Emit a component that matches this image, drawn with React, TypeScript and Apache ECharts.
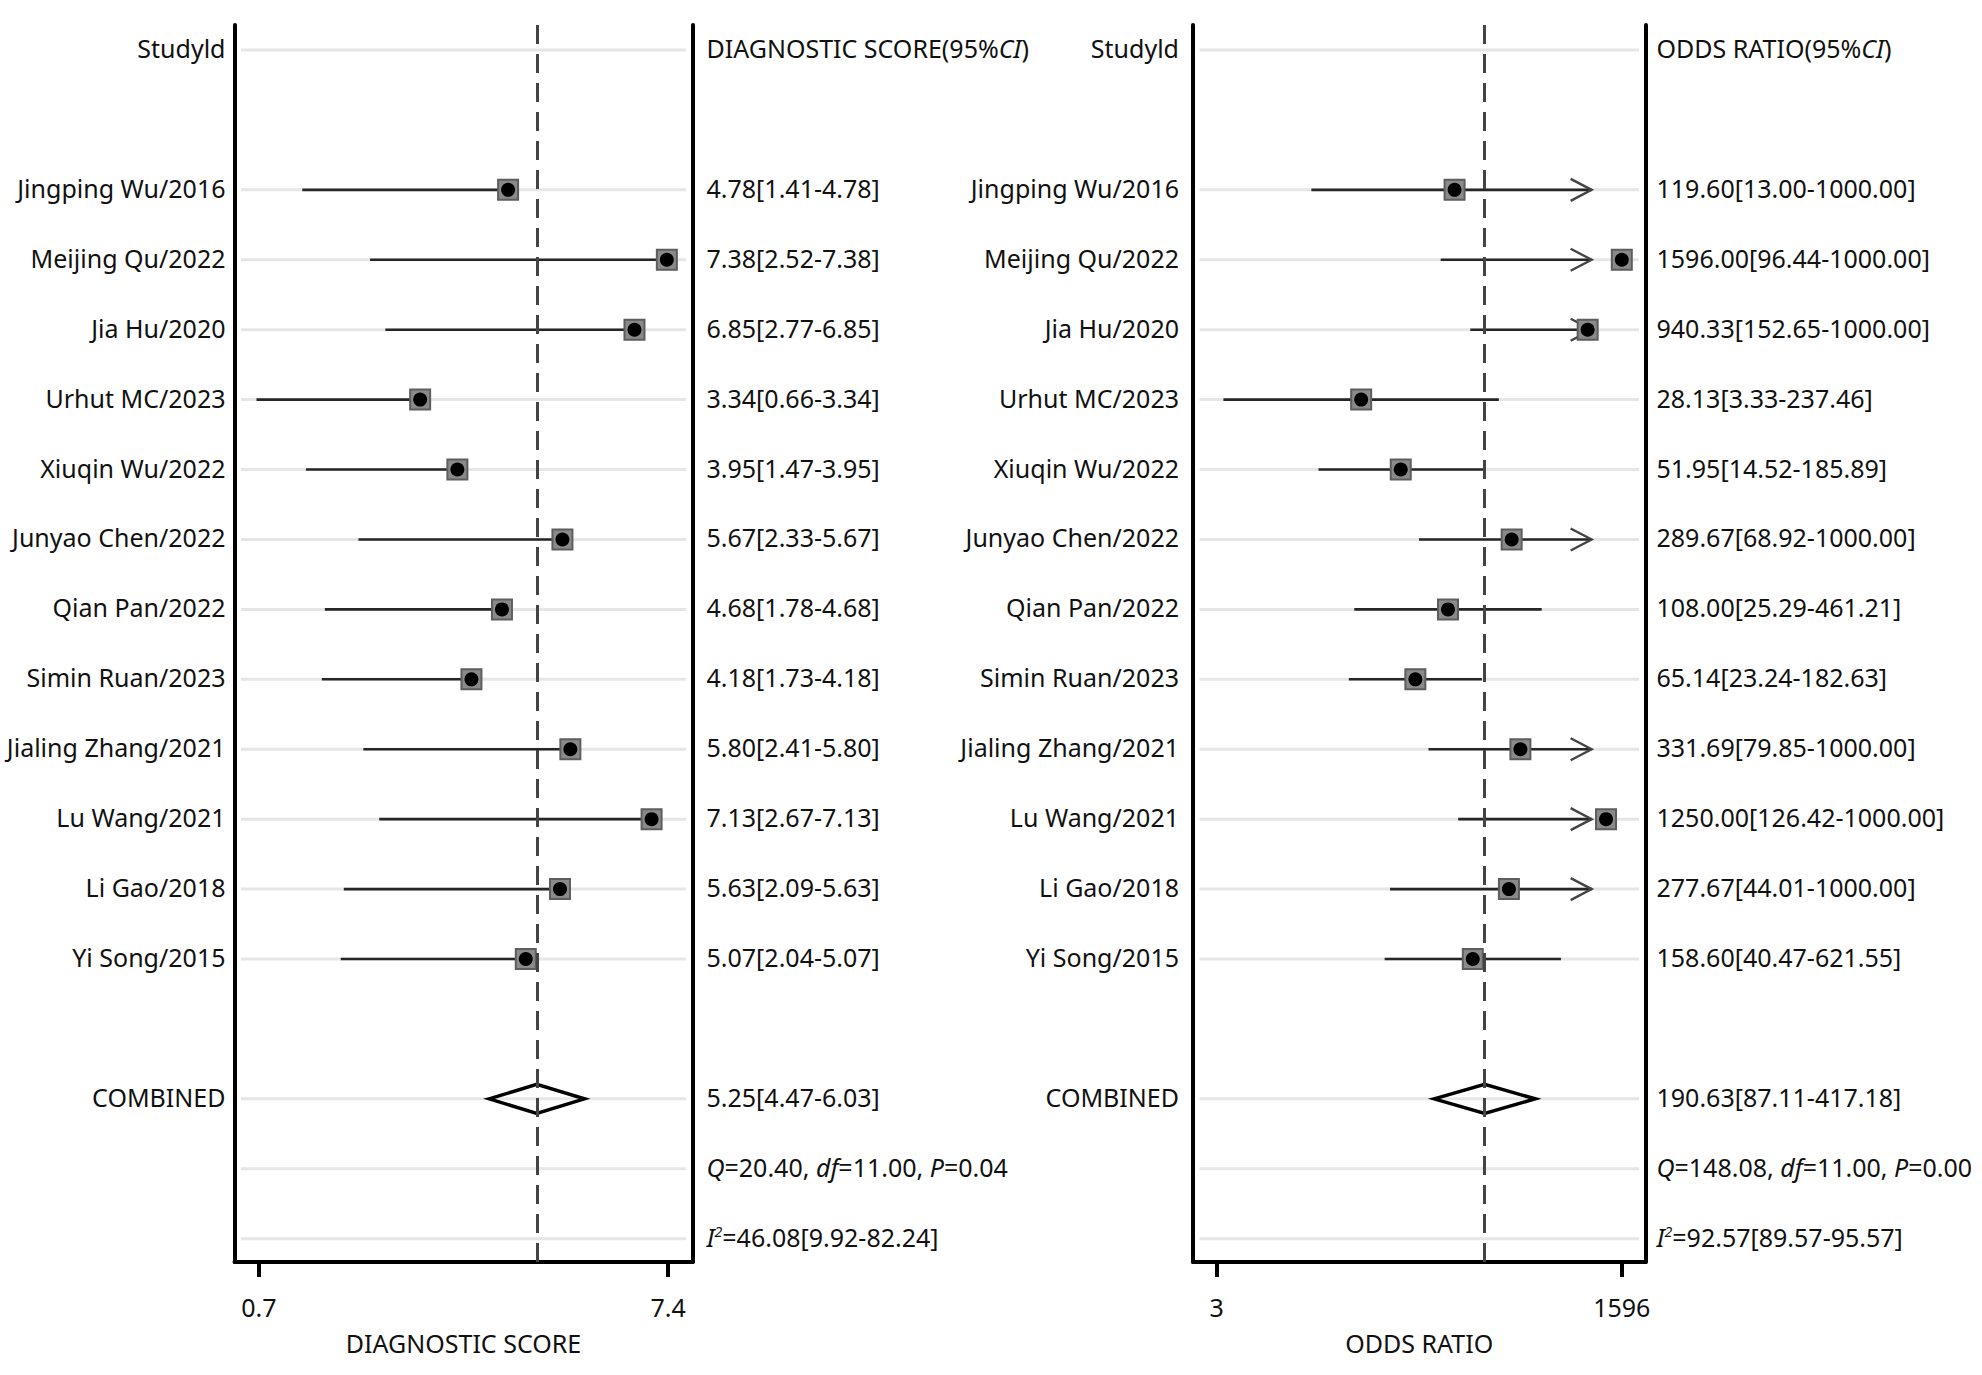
import React, { useEffect, useRef } from "react";
import * as echarts from "echarts";

// ---------- data ----------
const studies = [
  "Jingping Wu/2016",
  "Meijing Qu/2022",
  "Jia Hu/2020",
  "Urhut MC/2023",
  "Xiuqin Wu/2022",
  "Junyao Chen/2022",
  "Qian Pan/2022",
  "Simin Ruan/2023",
  "Jialing Zhang/2021",
  "Lu Wang/2021",
  "Li Gao/2018",
  "Yi Song/2015",
];
const dsEst = [4.78, 7.38, 6.85, 3.34, 3.95, 5.67, 4.68, 4.18, 5.8, 7.13, 5.63, 5.07];
const dsLow = [1.41, 2.52, 2.77, 0.66, 1.47, 2.33, 1.78, 1.73, 2.41, 2.67, 2.09, 2.04];
const dsHigh = [4.78, 7.38, 6.85, 3.34, 3.95, 5.67, 4.68, 4.18, 5.8, 7.13, 5.63, 5.07];

const orEst = [119.6, 1596.0, 940.33, 28.13, 51.95, 289.67, 108.0, 65.14, 331.69, 1250.0, 277.67, 158.6];
const orLow = [13.0, 96.44, 152.65, 3.33, 14.52, 68.92, 25.29, 23.24, 79.85, 126.42, 44.01, 40.47];
const orHigh = [1000, 1000, 1000, 237.46, 185.89, 1000, 461.21, 182.63, 1000, 1000, 1000, 621.55];
const orTruncate = 1000;

const dsPooled = [5.25, 4.47, 6.03];
const orPooled = [190.63, 87.11, 417.18];

const dsHet = { Q: "20.40", df: "11.00", P: "0.04", I2: "46.08[9.92-82.24]" };
const orHet = { Q: "148.08", df: "11.00", P: "0.00", I2: "92.57[89.57-95.57]" };

const dsTicks = [0.7, 7.4];
const orTicks = [3, 1596];

const dsAxisMin = 0.3;
const dsAxisMax = 7.8;
const orAxisMinLog = 0.3176;
const orAxisMaxLog = 3.3625;

const headerLabel = "Studyld";
const pooledLabel = "COMBINED";
const dsHeader = "DIAGNOSTIC SCORE(95%{i|CI})";
const orHeader = "ODDS RATIO(95%{i|CI})";
const dsAxisName = "DIAGNOSTIC SCORE";
const orAxisName = "ODDS RATIO";

// ---------- layout rows ----------
const headerRow = 0;
const studyRows = studies.map((_, i) => i + 2);
const pooledRow = 15;
const qRow = 16;
const i2Row = 17;
const gridRows = [headerRow, ...studyRows, pooledRow, qRow, i2Row];

const FONT = "'Noto Sans', 'Open Sans', sans-serif";
const FS = 25;
const TXT = "#111";

const fmt = (v: number) => v.toFixed(2);

function leftLabels(): Record<number, string> {
  const m: Record<number, string> = { [headerRow]: headerLabel, [pooledRow]: pooledLabel };
  studies.forEach((s, i) => (m[studyRows[i]] = s));
  return m;
}

function rightLabels(est: number[], lo: number[], hi: number[], pooled: number[], het: any, header: string) {
  const m: Record<number, string> = { [headerRow]: header };
  studies.forEach((_, i) => (m[studyRows[i]] = `${fmt(est[i])}[${fmt(lo[i])}-${fmt(hi[i])}]`));
  m[pooledRow] = `${fmt(pooled[0])}[${fmt(pooled[1])}-${fmt(pooled[2])}]`;
  m[qRow] = `{i|Q}=${het.Q}, {i|df}=${het.df}, {i|P}=${het.P}`;
  m[i2Row] = `{i|I}{s|2}=${het.I2}`;
  return m;
}

const richStyles = {
  n: { fontFamily: FONT, fontSize: FS, color: TXT },
  i: { fontStyle: "italic", fontFamily: FONT, fontSize: FS, color: TXT },
  s: { fontStyle: "italic", fontFamily: FONT, fontSize: 14, color: TXT, verticalAlign: "top", padding: [0, 0, 10, 0] },
};

function ciRenderer(params: any, api: any) {
  const est = api.value(0);
  const row = api.value(1);
  const lo = api.value(2);
  const hi = api.value(3);
  const trunc = api.value(4);
  const pE = api.coord([est, row]);
  const pL = api.coord([lo, row]);
  const pH = api.coord([hi, row]);
  const children: any[] = [
    {
      type: "line",
      shape: { x1: pL[0], y1: pL[1], x2: pH[0], y2: pH[1] },
      style: { stroke: "#262626", lineWidth: 2.6 },
    },
  ];
  if (trunc) {
    children.push({
      type: "polyline",
      shape: { points: [[pH[0] - 21, pH[1] - 11], [pH[0], pH[1]], [pH[0] - 21, pH[1] + 11]] },
      style: { stroke: "#444", lineWidth: 2.4, fill: "none" },
    });
  }
  children.push({
    type: "rect",
    shape: { x: pE[0] - 10, y: pE[1] - 10, width: 20, height: 20 },
    style: { fill: "#8a8a8a", stroke: "#5e5e5e", lineWidth: 2 },
  });
  children.push({
    type: "circle",
    shape: { cx: pE[0], cy: pE[1], r: 7 },
    style: { fill: "#000" },
  });
  return { type: "group", children };
}

function diamondRenderer(params: any, api: any) {
  const est = api.value(0);
  const row = api.value(1);
  const lo = api.value(2);
  const hi = api.value(3);
  const pE = api.coord([est, row]);
  const pL = api.coord([lo, row]);
  const pH = api.coord([hi, row]);
  return {
    type: "polygon",
    shape: {
      points: [
        [pL[0], pL[1]],
        [pE[0], pE[1] - 14.5],
        [pH[0], pH[1]],
        [pE[0], pE[1] + 14.5],
      ],
    },
    style: { fill: "none", stroke: "#000", lineWidth: 3.5, lineJoin: "miter" },
  };
}

function gridLineRenderer(params: any, api: any) {
  const y = api.coord([api.value(0), api.value(1)])[1];
  const cs = params.coordSys;
  return {
    type: "line",
    shape: { x1: cs.x + 6.5, y1: y, x2: cs.x + cs.width - 6.5, y2: y },
    style: { stroke: "#e6e6e6", lineWidth: 3 },
  };
}

const yMin = -0.3575;
const yMax = 17.333;

function yAxes(gridIndex: number, leftMap: Record<number, string>, rightMap: Record<number, string>, lm: number, rm: number) {
  const base = {
    type: "value",
    gridIndex,
    min: yMin,
    max: yMax,
    inverse: true,
    splitLine: { show: false },
    axisTick: { show: false },
    axisLine: { show: true, onZero: false, lineStyle: { color: "#000", width: 4 } },
  };
  return [
    {
      ...base,
      position: "left",
      axisLabel: {
        customValues: [headerRow, ...studyRows, pooledRow],
        formatter: (v: number) => {
          const s = leftMap[Math.round(v)];
          return s ? `{n|${s}}` : "";
        },
        fontFamily: FONT,
        fontSize: FS,
        color: TXT,
        margin: lm,
        padding: [0, 0, 4, 0],
        rich: richStyles,
      },
    },
    {
      ...base,
      position: "right",
      axisLabel: {
        customValues: gridRows,
        formatter: (v: number) => rightMap[Math.round(v)] ?? "",
        fontFamily: FONT,
        fontSize: FS,
        color: TXT,
        margin: rm,
        align: "left",
        padding: [0, 0, 4, 0],
        rich: richStyles,
      },
    },
  ];
}

function xAxisBase(gridIndex: number, min: number, max: number, ticks: number[], name: string, fmtFn: (v: number) => string) {
  return {
    type: "value",
    gridIndex,
    min,
    max,
    position: "bottom",
    splitLine: { show: false },
    axisLine: { show: true, onZero: false, lineStyle: { color: "#000", width: 4 } },
    axisTick: { show: true, customValues: ticks, length: 15, lineStyle: { color: "#000", width: 4 } },
    axisLabel: { customValues: ticks, formatter: fmtFn, fontFamily: FONT, fontSize: FS, color: TXT, margin: 32 },
    name,
    nameLocation: "middle",
    nameGap: 68,
    nameTextStyle: { fontFamily: FONT, fontSize: FS, color: TXT },
  };
}

export default function App() {
  const ref = useRef<HTMLDivElement>(null);
  useEffect(() => {
    if (!ref.current) return;
    const chart = echarts.init(ref.current, null, { renderer: "svg" });

    const lg = Math.log10;
    const dsData = studies.map((_, i) => [dsEst[i], studyRows[i], dsLow[i], dsHigh[i], 0]);
    const orData = studies.map((_, i) => [
      lg(orEst[i]),
      studyRows[i],
      lg(orLow[i]),
      lg(orHigh[i]),
      orHigh[i] >= orTruncate ? 1 : 0,
    ]);

    const dashed = {
      silent: true,
      symbol: "none",
      label: { show: false },
      lineStyle: { type: [19, 10], color: "#444", width: 3 },
    };

    const option: any = {
      animation: false,
      backgroundColor: "#fff",
      textStyle: { fontFamily: FONT },
      grid: [
        { left: 234.5, top: 25, width: 458, height: 1237, outerBoundsMode: "none", containLabel: false },
        { left: 1193, top: 25, width: 452.5, height: 1237, outerBoundsMode: "none", containLabel: false },
      ],
      xAxis: [
        xAxisBase(0, dsAxisMin, dsAxisMax, dsTicks, dsAxisName, (v: number) => String(v)),
        xAxisBase(1, orAxisMinLog, orAxisMaxLog, orTicks.map((t) => lg(t)), orAxisName, (v: number) =>
          String(Math.round(Math.pow(10, v)))
        ),
      ],
      yAxis: [
        ...yAxes(0, leftLabels(), rightLabels(dsEst, dsLow, dsHigh, dsPooled, dsHet, dsHeader), 9, 14),
        ...yAxes(1, leftLabels(), rightLabels(orEst, orLow, orHigh, orPooled, orHet, orHeader), 14, 11),
      ],
      series: [
        {
          type: "custom",
          xAxisIndex: 0,
          yAxisIndex: 0,
          z: 1,
          silent: true,
          renderItem: gridLineRenderer,
          encode: { x: 0, y: 1 },
          data: gridRows.map((r) => [dsAxisMin, r]),
        },
        {
          type: "custom",
          xAxisIndex: 1,
          yAxisIndex: 2,
          z: 1,
          silent: true,
          renderItem: gridLineRenderer,
          encode: { x: 0, y: 1 },
          data: gridRows.map((r) => [orAxisMinLog, r]),
        },
        {
          type: "custom",
          xAxisIndex: 0,
          yAxisIndex: 0,
          z: 3,
          silent: true,
          renderItem: diamondRenderer,
          encode: { x: 0, y: 1 },
          data: [[dsPooled[0], pooledRow, dsPooled[1], dsPooled[2]]],
          markLine: { ...dashed, data: [{ xAxis: dsPooled[0] }] },
        },
        {
          type: "custom",
          xAxisIndex: 1,
          yAxisIndex: 2,
          z: 3,
          silent: true,
          renderItem: diamondRenderer,
          encode: { x: 0, y: 1 },
          data: [[lg(orPooled[0]), pooledRow, lg(orPooled[1]), lg(orPooled[2])]],
          markLine: { ...dashed, data: [{ xAxis: lg(orPooled[0]) }] },
        },
        {
          type: "custom",
          xAxisIndex: 0,
          yAxisIndex: 0,
          z: 4,
          silent: true,
          renderItem: ciRenderer,
          encode: { x: 0, y: 1 },
          data: dsData,
        },
        {
          type: "custom",
          xAxisIndex: 1,
          yAxisIndex: 2,
          z: 4,
          silent: true,
          renderItem: ciRenderer,
          encode: { x: 0, y: 1 },
          data: orData,
        },
      ],
    };
    chart.setOption(option);
    return () => chart.dispose();
  }, []);

  return (
    <div
      ref={ref}
      style={{ position: "fixed", left: 0, top: 0, width: 1982, height: 1375, background: "#fff" }}
    />
  );
}
